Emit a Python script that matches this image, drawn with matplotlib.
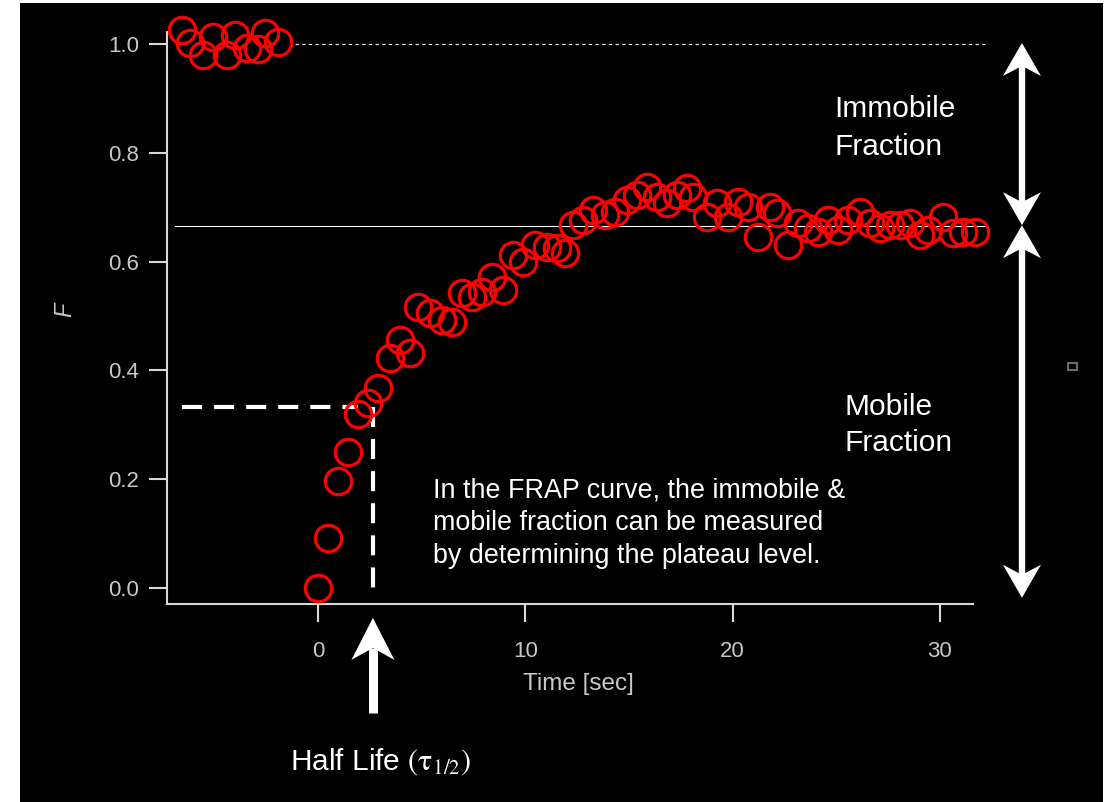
import numpy as np
import matplotlib
matplotlib.use('Agg')
import matplotlib.pyplot as plt
from matplotlib.patches import Rectangle, Polygon
from matplotlib.lines import Line2D

plt.rcParams['font.family'] = ['Liberation Sans', 'DejaVu Sans']
plt.rcParams['mathtext.fontset'] = 'stix'

# pre-bleach points
t_pre = [-6.56, -6.17, -5.55, -5.07, -4.39, -4.0, -3.42, -2.9, -2.56, -1.93]
f_pre = [1.026, 1.002, 0.980, 1.013, 0.980, 1.017, 0.993, 0.99, 1.02, 1.004]

# recovery after bleach
t_post = [0.0, 0.48, 0.96, 1.45, 1.93, 2.41, 2.9, 3.47, 3.96, 4.44,
          4.82, 5.40, 5.98, 6.46, 6.95, 7.43, 7.91, 8.39, 8.92, 9.41,
          9.89, 10.47, 11.05, 11.53, 11.9, 12.3, 12.78, 13.27, 13.84, 14.33,
          14.9, 15.39, 15.87, 16.35, 16.84, 17.32, 17.8, 18.1, 18.77, 19.25,
          19.78, 20.26, 20.74, 21.23, 21.8, 22.14, 22.67, 23.15, 23.64, 24.12,
          24.6, 25.08, 25.57, 26.15, 26.63, 27.11, 27.59, 28.08, 28.56, 29.04,
          29.43, 30.15, 30.63, 31.11, 31.69]
f_post = [0.0, 0.092, 0.197, 0.25, 0.32, 0.34, 0.368, 0.423, 0.456, 0.432,
          0.517, 0.505, 0.493, 0.489, 0.542, 0.535, 0.544, 0.572, 0.548, 0.612,
          0.60, 0.63, 0.627, 0.625, 0.616, 0.667, 0.676, 0.695, 0.686, 0.691,
          0.713, 0.722, 0.737, 0.719, 0.708, 0.722, 0.735, 0.719, 0.682, 0.708,
          0.682, 0.71, 0.70, 0.645, 0.70, 0.689, 0.63, 0.671, 0.662, 0.654,
          0.676, 0.658, 0.676, 0.691, 0.671, 0.662, 0.667, 0.667, 0.671, 0.649,
          0.658, 0.682, 0.653, 0.654, 0.654]

plateau = 0.665
half_F = 0.333
half_t = 2.65
arrow_t = 33.96

fig = plt.figure(figsize=(11.1, 8.02), dpi=100, facecolor='white')
fig.patches.append(Rectangle((20 / 1110, 0), 1083 / 1110, 799 / 802,
                             transform=fig.transFigure, facecolor='black',
                             edgecolor='none', zorder=-10))

ax = fig.add_axes([0.1505, 0.2469, 0.7261, 0.7131])
ax.set_facecolor('black')

ax.plot(t_pre, f_pre, 'o', mfc='none', mec='red', ms=19, mew=2.3, clip_on=False, zorder=5)
ax.plot(t_post, f_post, 'o', mfc='none', mec='red', ms=19, mew=2.3, clip_on=False, zorder=5)

ax.set_xlim(-7.28, 31.6)
ax.set_ylim(-0.0294, 1.022)
ax.set_xticks([0, 10, 20, 30])
ax.set_yticks([0.0, 0.2, 0.4, 0.6, 0.8, 1.0])
ax.set_yticklabels(['0.0', '0.2', '0.4', '0.6', '0.8', '1.0'])

for s in ['top', 'right']:
    ax.spines[s].set_visible(False)
for s in ['left', 'bottom']:
    ax.spines[s].set_color('#d8d8d8')
    ax.spines[s].set_linewidth(1.5)
ax.tick_params(colors='#d8d8d8', labelcolor='#c8c8c8', labelsize=16,
               length=13, width=1.5, direction='out')
ax.tick_params(axis='x', pad=13.5)
ax.tick_params(axis='y', pad=7)

ax.set_xlabel('Time [sec]', color='#c8c8c8', fontsize=17.5)
ax.xaxis.set_label_coords(0.51, -0.121)
ax.set_ylabel('F', color='#c8c8c8', fontsize=17, style='italic')
ax.yaxis.set_label_coords(-0.113, 0.514)

# reference lines
ax.plot([-1.1, 32.2], [1.0, 1.0], color='white', lw=0.8, ls=(0, (3, 3)), clip_on=False)
ax.plot([-6.9, 32.2], [plateau, plateau], color='white', lw=0.8, clip_on=False)

# half life guides
ax.plot([-6.56, 1.93], [half_F, half_F], color='white', lw=3, ls=(0, (4.8, 2.9)), clip_on=False)
ax.plot([half_t, half_t], [half_F, -0.018], color='white', lw=3, ls=(0, (4.8, 2.9)), clip_on=False)


def arrow(tip, tail, shaft_px, length, width, notch, both=False):
    # concave (stealth) arrow head, sizes in pixels
    x0, y0 = ax.transData.transform(tail)
    x1, y1 = ax.transData.transform(tip)
    d = 1 if y1 > y0 else -1
    ends = [(x1, y1, d)]
    if both:
        ends.append((x0, y0, -d))
    for hx, hy, dd in ends:
        pts = [(hx, hy), (hx - width / 2, hy - dd * length),
               (hx, hy - dd * notch), (hx + width / 2, hy - dd * length)]
        fig.add_artist(Polygon(pts, closed=True, transform=None,
                               facecolor='white', edgecolor='none'))
    ya = y0 + d * notch if both else y0
    yb = y1 - d * notch
    fig.add_artist(Line2D([x0, x1], [ya, yb], transform=None, color='white',
                          lw=shaft_px * 0.72, solid_capstyle='butt'))


arrow((half_t, -0.055), (half_t, -0.23), 9, 42, 43, 30)
arrow((arrow_t, 1.002), (arrow_t, 0.667), 6.4, 33, 38, 23, both=True)
arrow((arrow_t, -0.018), (arrow_t, 0.667), 6.4, 33, 38, 23, both=True)

fig.text(0.752, 0.8405, 'Immobile\nFraction', color='white', fontsize=21.5,
         ha='left', va='center', linespacing=1.45)
fig.text(0.761, 0.470, 'Mobile\nFraction', color='white', fontsize=21.5,
         ha='left', va='center', linespacing=1.38)
fig.text(0.390, 0.3475, 'In the FRAP curve, the immobile &\nmobile fraction can be measured\n'
         'by determining the plateau level.', color='white', fontsize=19.4,
         ha='left', va='center', linespacing=1.32)
fig.text(0.261, 0.041, r'Half Life $\mathrm{(\tau_{1/2})}$', color='white', fontsize=21.5,
         ha='left', va='baseline')

fig.patches.append(Rectangle((1068 / 1110, (802 - 370) / 802), 9 / 1110, 7 / 802,
                             transform=fig.transFigure, facecolor='none',
                             edgecolor='#5f6f7a', lw=1.5))

fig.savefig('out.png', dpi=100, facecolor='white')
